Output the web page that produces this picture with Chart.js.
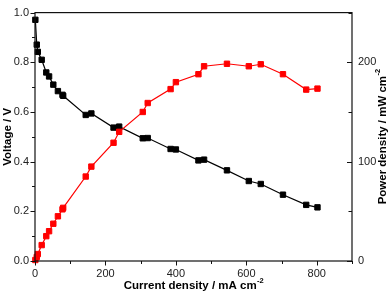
<!DOCTYPE html>
<html><head><meta charset="utf-8">
<script src="https://cdn.jsdelivr.net/npm/chart.js@4/dist/chart.umd.min.js"></script>
<style>html,body{margin:0;padding:0;background:#fff;overflow:hidden}</style>
</head><body>
<canvas id="c" width="392" height="293"></canvas>
<script>
// ---- data ----
const currentDensity = [1, 5, 8, 19, 32, 40, 52, 65, 78, 80, 144, 160, 223, 239, 306, 320, 385, 400, 464, 480, 545, 607, 641, 704, 770, 802];
const voltage = [0.971, 0.871, 0.842, 0.81, 0.759, 0.743, 0.71, 0.684, 0.669, 0.665, 0.588, 0.594, 0.537, 0.541, 0.494, 0.495, 0.451, 0.449, 0.405, 0.408, 0.365, 0.322, 0.31, 0.267, 0.226, 0.216];
const powerDensity = [1, 4, 7, 16, 25, 30, 37.5, 45, 52, 53.5, 85, 95, 119, 130, 150, 159, 173, 180, 188, 196, 198.5, 196, 198, 188, 172.5, 173.5];
const xTickLabels = [0, 200, 400, 600, 800];
const voltageTickLabels = [0.0, 0.2, 0.4, 0.6, 0.8, 1.0];
const powerTickLabels = [0, 100, 200];
const xTitle = ['Current density / mA cm', '-2'];
const yTitle = 'Voltage / V';
const y1Title = ['Power density / mW cm', '-2'];

const FONT = '"Liberation Sans", Arial, Helvetica, sans-serif';
const voltagePts = currentDensity.map((x, i) => ({x, y: voltage[i]}));
const powerPts = currentDensity.map((x, i) => ({x, y: powerDensity[i]}));

function near(list, v, eps) { return list.some(t => Math.abs(t - v) < eps); }

const framePlugin = {
  id: 'frame',
  afterDraw(chart) {
    const ctx = chart.ctx, a = chart.chartArea;
    const sx = chart.scales.x, sy = chart.scales.y, sy1 = chart.scales.y1;
    ctx.save();
    ctx.strokeStyle = '#111';
    ctx.lineWidth = 1.2;
    ctx.strokeRect(a.left, a.top, a.right - a.left, a.bottom - a.top);
    ctx.lineWidth = 1;
    ctx.beginPath();
    sx.ticks.forEach(t => {
      const p = Math.round(sx.getPixelForValue(t.value)) + 0.5;
      const len = near(xTickLabels, t.value, 1e-6) ? 4.5 : 3;
      ctx.moveTo(p, a.bottom); ctx.lineTo(p, a.bottom + len);
    });
    sy.ticks.forEach(t => {
      const p = Math.round(sy.getPixelForValue(t.value)) + 0.5;
      const len = near(voltageTickLabels, t.value, 1e-6) ? 4.5 : 3;
      ctx.moveTo(a.left, p); ctx.lineTo(a.left - len, p);
    });
    sy1.ticks.forEach(t => {
      const p = Math.round(sy1.getPixelForValue(t.value)) + 0.5;
      const len = near(powerTickLabels, t.value, 1e-6) ? 5 : 3.5;
      ctx.moveTo(a.right, p); ctx.lineTo(a.right - len, p);
    });
    ctx.stroke();

    // axis titles
    ctx.fillStyle = '#000';
    const tf = 'bold 11.5px ' + FONT, sf = 'bold 7.5px ' + FONT;
    // x title
    ctx.font = tf;
    const w1 = ctx.measureText(xTitle[0]).width;
    ctx.font = sf;
    const w2 = ctx.measureText(xTitle[1]).width;
    const cx = (a.left + a.right) / 2;
    let x0 = cx - (w1 + w2) / 2;
    ctx.textBaseline = 'alphabetic';
    ctx.textAlign = 'left';
    ctx.font = tf; ctx.fillText(xTitle[0], x0, 289);
    ctx.font = sf; ctx.fillText(xTitle[1], x0 + w1 + 0.5, 283);
    // left title
    ctx.save();
    ctx.translate(11, (a.top + a.bottom) / 2);
    ctx.rotate(-Math.PI / 2);
    ctx.font = tf; ctx.textAlign = 'center';
    ctx.fillText(yTitle, 0, 0);
    ctx.restore();
    // right title
    ctx.save();
    ctx.translate(386, (a.top + a.bottom) / 2);
    ctx.rotate(-Math.PI / 2);
    ctx.font = tf;
    const r1 = ctx.measureText(y1Title[0]).width;
    ctx.font = sf;
    const r2 = ctx.measureText(y1Title[1]).width;
    let rx = -(r1 + r2) / 2;
    ctx.textAlign = 'left';
    ctx.font = tf; ctx.fillText(y1Title[0], rx, 0);
    ctx.font = sf; ctx.fillText(y1Title[1], rx + r1 + 0.5, -6);
    ctx.restore();
    ctx.restore();
  }
};

new Chart(document.getElementById('c'), {
  type: 'line',
  data: {
    datasets: [
      {
        label: 'Power density', data: powerPts, yAxisID: 'y1', order: 0,
        borderColor: '#ff0000', backgroundColor: '#ff0000', borderWidth: 1.2,
        pointStyle: 'rect', pointRadius: 3.8, pointBorderWidth: 1, clip: false, tension: 0
      },
      {
        label: 'Voltage', data: voltagePts, yAxisID: 'y', order: 1,
        borderColor: '#000000', backgroundColor: '#000000', borderWidth: 1.2,
        pointStyle: 'rect', pointRadius: 3.8, pointBorderWidth: 1, clip: false, tension: 0
      }
    ]
  },
  options: {
    responsive: false,
    devicePixelRatio: 1,
    animation: false,
    layout: { padding: { top: 5, left: 0, right: 0, bottom: 0 } },
    plugins: { legend: { display: false }, tooltip: { enabled: false } },
    scales: {
      x: {
        type: 'linear', min: 0, max: 900,
        grid: { display: false, drawTicks: false }, border: { display: false },
        ticks: {
          stepSize: 100, padding: 6, maxRotation: 0, autoSkip: false,
          color: '#222', font: { family: FONT, size: 11 },
          callback: v => near(xTickLabels, v, 1e-6) ? String(v) : ''
        },
        afterFit: s => { s.height = 32; }
      },
      y: {
        position: 'left', min: 0, max: 1,
        grid: { display: false, drawTicks: false }, border: { display: false },
        ticks: {
          stepSize: 0.1, padding: 6, autoSkip: false,
          color: '#222', font: { family: FONT, size: 11 },
          callback: v => near(voltageTickLabels, v, 1e-6) ? Number(v).toFixed(1) : ''
        },
        afterFit: s => { s.width = 35; }
      },
      y1: {
        position: 'right', min: 0, max: 250,
        grid: { display: false, drawTicks: false }, border: { display: false },
        ticks: {
          stepSize: 50, padding: 6, autoSkip: false,
          color: '#222', font: { family: FONT, size: 11 },
          callback: v => near(powerTickLabels, v, 1e-6) ? String(v) : ''
        },
        afterFit: s => { s.width = 40; }
      }
    }
  },
  plugins: [framePlugin]
});
</script>
</body></html>
